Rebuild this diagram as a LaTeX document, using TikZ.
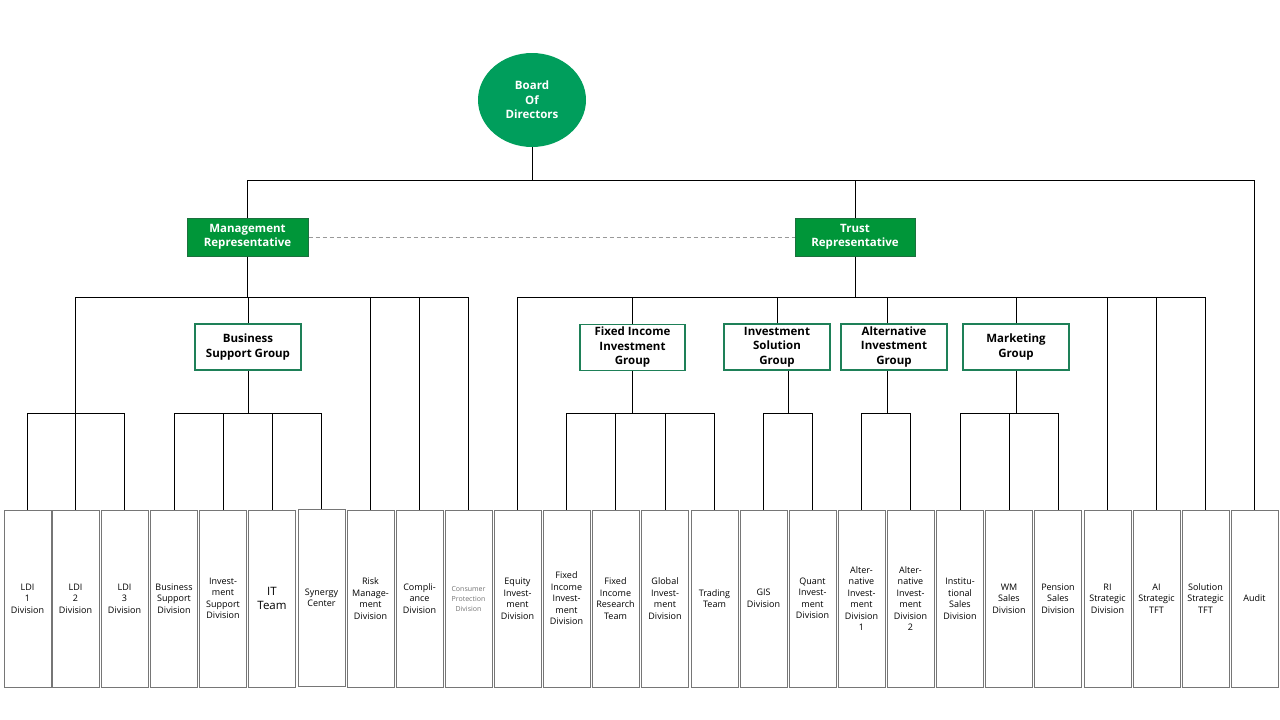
\documentclass[tikz,border=0pt]{standalone}
\usepackage{fontspec}
\setmainfont{Open Sans}
\usetikzlibrary{positioning, shapes.geometric, calc}
\definecolor{boardgreen}{RGB}{0,158,92}
\definecolor{repgreen}{RGB}{0,150,57}
\definecolor{repedge}{RGB}{28,112,62}
\definecolor{groupedge}{RGB}{30,128,88}
\definecolor{leafedge}{RGB}{118,118,118}
\tikzset{
    boardstyle/.style={ellipse, fill=boardgreen, minimum width=108pt, minimum height=94pt, text=white, align=center, font=\fontsize{11.5}{14.5}\selectfont\bfseries, inner sep=0pt},
    repbox/.style={rectangle, fill=repgreen, draw=repedge, line width=1pt, minimum width=121pt, minimum height=38pt, text=white, align=center, font=\fontsize{11.5}{14}\selectfont\bfseries, inner sep=0pt},
    groupbox/.style={rectangle, fill=white, draw=groupedge, line width=1.8pt, minimum width=106pt, minimum height=46pt, align=center, font=\fontsize{11.5}{14.5}\selectfont\bfseries, inner sep=0pt},
    leaf/.style={rectangle, draw=leafedge, line width=0.9pt, minimum width=44.5pt, minimum height=177pt, text width=47pt, align=center, inner sep=0pt, font=\fontsize{9}{11.5}\selectfont},
    leafbig/.style={leaf, font=\fontsize{11.5}{13.5}\selectfont},
    leafsmall/.style={leaf, font=\fontsize{7}{10}\selectfont, text=gray!90!black},
    conn/.style={line width=0.9pt, black},
    dashconn/.style={line width=1pt, gray!80, dash pattern=on 4pt off 3pt}
}
\begin{document}
\begin{tikzpicture}[x=1pt, y=-1pt]
    \useasboundingbox (0,0) rectangle (1280,720);
    % top
    \node[boardstyle] (board) at (532,100) {Board\\Of\\Directors};
    \node[repbox] (mgmt) at (247.5,237) {Management\\Representative};
    \node[repbox, minimum width=120pt] (trust) at (855,237) {Trust\\Representative};
    % groups
    \node[groupbox] (bsg) at (248,347) {Business\\Support Group};
    \node[groupbox, minimum width=105pt] (fig) at (632.5,347.5) {Fixed Income\\Investment\\Group};
    \node[groupbox] (isg) at (777,347) {Investment\\Solution\\Group};
    \node[groupbox] (aig) at (894,347) {Alternative\\Investment\\Group};
    \node[groupbox] (mkt) at (1016,347) {Marketing\\Group};
    % divisions and teams
    \node[leaf] (ldi1) at (27.5,598.5) {LDI\\1\\Division};
    \node[leaf] (ldi2) at (75.5,598.5) {LDI\\2\\Division};
    \node[leaf] (ldi3) at (124.5,598.5) {LDI\\3\\Division};
    \node[leaf] (bsd) at (174,598.5) {Business\\Support\\Division};
    \node[leaf] (ivs) at (223,598.5) {Invest-\\ment\\Support\\Division};
    \node[leafbig] (itt) at (272,598.5) {IT\\Team};
    \node[leaf] (syn) at (321.5,598) {Synergy\\Center};
    \node[leaf] (risk) at (370.5,598.5) {Risk\\Manage-\\ment\\Division};
    \node[leaf] (comp) at (419.5,598.5) {Compli-\\ance\\Division};
    \node[leafsmall] (cpd) at (468.5,598.5) {Consumer\\Protection\\Division};
    \node[leaf] (eqd) at (517.5,598.5) {Equity\\Invest-\\ment\\Division};
    \node[leaf] (fid) at (566.5,598.5) {Fixed\\Income\\Invest-\\ment\\Division};
    \node[leaf] (fir) at (615.5,598.5) {Fixed\\Income\\Research\\Team};
    \node[leaf] (gid) at (665,598.5) {Global\\Invest-\\ment\\Division};
    \node[leaf] (trd) at (714.5,598.5) {Trading\\Team};
    \node[leaf] (gis) at (763.5,598.5) {GIS\\Division};
    \node[leaf] (qid) at (812.5,598.5) {Quant\\Invest-\\ment\\Division};
    \node[leaf] (alt1) at (861.5,598.5) {Alter-\\native\\Invest-\\ment\\Division\\1};
    \node[leaf] (alt2) at (910.5,598.5) {Alter-\\native\\Invest-\\ment\\Division\\2};
    \node[leaf] (isd) at (960,598.5) {Institu-\\tional\\Sales\\Division};
    \node[leaf] (wms) at (1009,598.5) {WM\\Sales\\Division};
    \node[leaf] (psd) at (1058,598.5) {Pension\\Sales\\Division};
    \node[leaf] (ri) at (1107.5,598.5) {RI\\Strategic\\Division};
    \node[leaf] (ai) at (1156.5,598.5) {AI\\Strategic\\TFT};
    \node[leaf] (sol) at (1205.5,598.5) {Solution\\Strategic\\TFT};
    \node[leaf] (audit) at (1254.5,598.5) {Audit};
    % bus levels
    \coordinate (busA) at (0,180);
    \coordinate (busB) at (0,297);
    \coordinate (busC) at (0,413);
    \coordinate (isgbot) at ([xshift=11pt]isg.south);
    \coordinate (aigtop) at ([xshift=-7pt]aig.north);
    \coordinate (aigbot) at ([xshift=-7pt]aig.south);
    % board
    \draw[conn] (board.south) -- (board.south |- busA);
    \draw[conn] (mgmt.north) |- (audit.north |- busA) -- (audit.north);
    \draw[conn] (trust.north) -- (trust.north |- busA);
    \draw[dashconn] (mgmt.east) -- (trust.west);
    % management side
    \draw[conn] (mgmt.south) -- (mgmt.south |- busB);
    \draw[conn] (ldi2.north) |- (cpd.north |- busB) -- (cpd.north);
    \foreach \n in {bsg, risk, comp}
        \draw[conn] (\n.north) -- (\n.north |- busB);
    \draw[conn] (ldi1.north) |- (ldi3.north |- busC) -- (ldi3.north);
    \draw[conn] (bsg.south) -- (bsg.south |- busC);
    \draw[conn] (bsd.north) |- (syn.north |- busC) -- (syn.north);
    \foreach \n in {ivs, itt}
        \draw[conn] (\n.north) -- (\n.north |- busC);
    % trust side
    \draw[conn] (trust.south) -- (trust.south |- busB);
    \draw[conn] (eqd.north) |- (sol.north |- busB) -- (sol.north);
    \foreach \n in {fig, isg, mkt, ri, ai}
        \draw[conn] (\n.north) -- (\n.north |- busB);
    \draw[conn] (aigtop) -- (aigtop |- busB);
    \draw[conn] (fig.south) -- (fig.south |- busC);
    \draw[conn] (fid.north) |- (trd.north |- busC) -- (trd.north);
    \foreach \n in {fir, gid}
        \draw[conn] (\n.north) -- (\n.north |- busC);
    \draw[conn] (isgbot) -- (isgbot |- busC);
    \draw[conn] (gis.north) |- (qid.north |- busC) -- (qid.north);
    \draw[conn] (aigbot) -- (aigbot |- busC);
    \draw[conn] (alt1.north) |- (alt2.north |- busC) -- (alt2.north);
    \draw[conn] (mkt.south) -- (mkt.south |- busC);
    \draw[conn] (isd.north) |- (psd.north |- busC) -- (psd.north);
    \draw[conn] (wms.north) -- (wms.north |- busC);
\end{tikzpicture}
\end{document}
